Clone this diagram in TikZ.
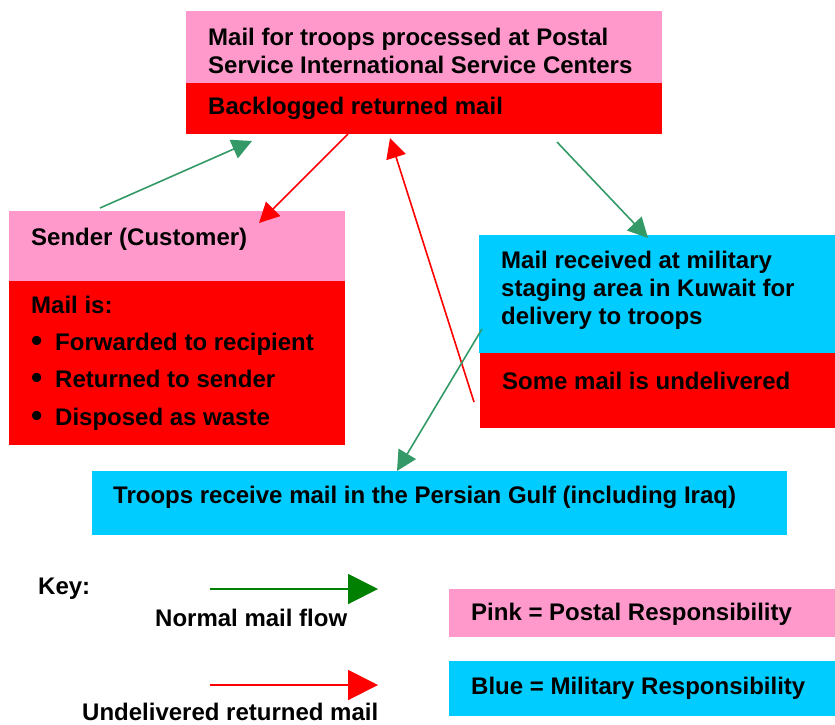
\documentclass[tikz,border=0pt]{standalone}
\usepackage{fontspec}
\setmainfont{Liberation Sans}
\usetikzlibrary{arrows.meta,calc}
\definecolor{cpink}{HTML}{FF99CC}
\definecolor{cred}{HTML}{FF0000}
\definecolor{cblue}{HTML}{00CCFF}
\definecolor{cgreen}{HTML}{339966}
\definecolor{kgreen}{HTML}{008000}
\newcommand{\bigbul}{\makebox[24pt][l]{\hspace{0pt}\raisebox{-1pt}{\fontsize{32}{28}\selectfont •}}}
\tikzset{
  box/.style={inner sep=0pt, outer sep=0pt, anchor=north west, draw=none},
  lbl/.style={inner sep=0pt, anchor=west, align=left, font=\bfseries\fontsize{24}{28}\selectfont},
  flow/.style={cgreen, line width=1.6pt, -{Triangle[length=20pt,width=20pt]}},
  back/.style={cred, line width=1.6pt, -{Triangle[length=20pt,width=20pt]}},
  keyarrow/.style={line width=2pt, -{Triangle[length=30pt,width=30pt]}},
}
\begin{document}
\begin{tikzpicture}[x=1pt,y=-1pt]
\useasboundingbox (0,0) rectangle (835,724);
% boxes
\node[box, fill=cpink, minimum width=476pt, minimum height=72pt] (topP) at (186,11) {};
\node[box, fill=cred, minimum width=476pt, minimum height=51pt] (topR) at (186,83) {};
\node[box, fill=cpink, minimum width=336pt, minimum height=70pt] (sendP) at (9,211) {};
\node[box, fill=cred, minimum width=336pt, minimum height=164pt] (sendR) at (9,281) {};
\node[box, fill=cblue, minimum width=356pt, minimum height=118pt] (kuwB) at (479,235) {};
\node[box, fill=cred, minimum width=355pt, minimum height=75pt] (kuwR) at (480,353) {};
\node[box, fill=cblue, minimum width=695pt, minimum height=64pt] (troops) at (92,471) {};
\node[box, fill=cpink, minimum width=386pt, minimum height=48pt] (legP) at (449,589) {};
\node[box, fill=cblue, minimum width=386pt, minimum height=55pt] (legB) at (449,661) {};
% texts
\node[lbl] (tTop) at (208,51) {Mail for troops processed at Postal\\Service International Service Centers};
\node[lbl] (tBack) at (208,108) {Backlogged returned mail};
\node[lbl] (tSend) at (31,239) {Sender (Customer)};
\node[lbl, font=\bfseries\fontsize{24}{37.4}\selectfont] (tMail) at (31,363) {Mail is:\\\bigbul Forwarded to recipient\\\bigbul Returned to sender\\\bigbul Disposed as waste};
\node[lbl] (tKuw) at (501,290) {Mail received at military\\staging area in Kuwait for\\delivery to troops};
\node[lbl] (tSome) at (502,381) {Some mail is undelivered};
\node[lbl] (tTroops) at (113,497) {Troops receive mail in the Persian Gulf (including Iraq)};
\node[lbl] (tKey) at (38,589) {Key:};
\node[lbl] (tNormal) at (155,618) {Normal mail flow};
\node[lbl] (tUndel) at (82,712) {Undelivered returned mail};
\node[lbl] (tPink) at (471,614) {Pink = Postal Responsibility};
\node[lbl] (tBlue) at (471,688) {Blue = Military Responsibility};
% connector end points
\coordinate (g1s) at (100,208); \coordinate (g1e) at (252,141);
\coordinate (r1s) at (348,134); \coordinate (r1e) at (259,223);
\coordinate (r2s) at (474,402); \coordinate (r2e) at (390,138);
\coordinate (g2s) at (557,142); \coordinate (g2e) at (648,238);
\coordinate (g3s) at (482,329); \coordinate (g3e) at (397,471);
\coordinate (k1s) at (210,589); \coordinate (k1e) at (378,589);
\coordinate (k2s) at (210,685); \coordinate (k2e) at (378,685);
% connectors
\draw[flow] (g1s) -- (g1e);
\draw[back] (r1s) -- (r1e);
\draw[back] (r2s) -- (r2e);
\draw[flow] (g2s) -- (g2e);
\draw[flow] (g3s) -- (g3e);
\draw[keyarrow, kgreen] (k1s) -- (k1e);
\draw[keyarrow, cred] (k2s) -- (k2e);
\end{tikzpicture}
\end{document}
